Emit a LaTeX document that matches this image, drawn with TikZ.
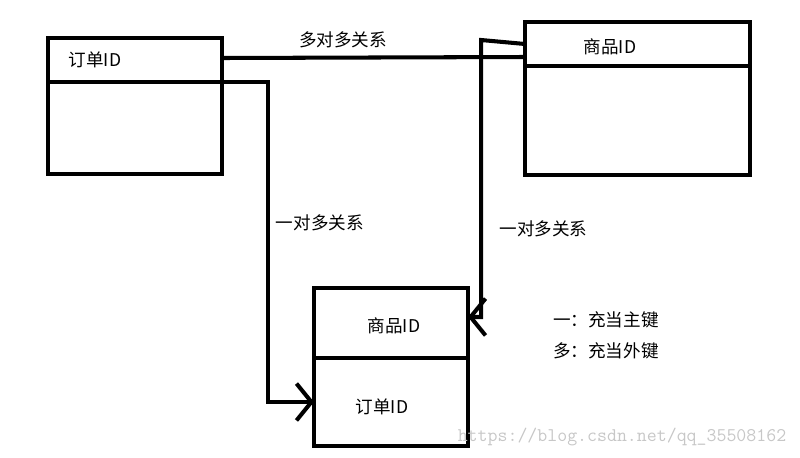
\documentclass[tikz,border=0pt]{standalone}
\usepackage{fontspec}
\setmainfont{Noto Sans CJK SC}
\usetikzlibrary{arrows.meta,positioning}

\begin{document}
\begin{tikzpicture}[x=0.02cm,y=-0.02cm,
    tbl/.style={draw,line width=2.3pt,outer sep=0pt,inner sep=0pt},
    conn/.style={line width=2.3pt},
    tip/.style={-{Straight Barb[length=8.5pt,width=21pt]}},
    lbl/.style={font=\fontsize{10}{12}\selectfont},
    wmark/.style={text=black!22,font=\ttfamily\fontsize{11}{13}\selectfont}]
    \useasboundingbox (0,0) rectangle (800,457);
    \node[tbl,minimum width=3.48cm,minimum height=0.88cm] (ordhd) at (135,60) {};
    \node[tbl,minimum width=3.48cm,minimum height=1.84cm] (ordbd) at (135,128) {};
    \node[tbl,minimum width=4.5cm,minimum height=0.88cm] (goodhd) at (637.5,44) {};
    \node[tbl,minimum width=4.5cm,minimum height=2.18cm] (goodbd) at (637.5,120.5) {};
    \node[tbl,minimum width=3.08cm,minimum height=1.4cm] (itemhd) at (391,323) {};
    \node[tbl,minimum width=3.08cm,minimum height=1.76cm] (itembd) at (391,402) {};
    \node[lbl] (ordid) at (95,60) {订单ID};
    \node[lbl] (goodid) at (610,47) {商品ID};
    \node[lbl] (itgood) at (394,326) {商品ID};
    \node[lbl] (itord) at (382,407) {订单ID};
    \draw[conn] ([yshift=0.04cm]ordhd.east) -- ([yshift=-0.26cm]goodhd.west)
        node[lbl,pos=0.4,above=1pt] (mm) {多对多关系};
    \draw[conn,tip] (ordhd.south east) -- ++(46,0) |- node[lbl,pos=0.22,right] (om1) {一对多关系} (itembd.west);
    \draw[conn,tip] (goodhd.west) -- ++(-44,-4) |- node[lbl,pos=0.34,right=6pt] (om2) {一对多关系} ([yshift=0.12cm]itemhd.east);
    \node[lbl,anchor=west] (note1) at (547,320) {一：充当主键};
    \node[lbl,below=0.62cm of note1.west,anchor=west] (note2) {多：充当外键};
    \node[wmark] (wm) at (622,437) {https://blog.csdn.net/qq\_35508162};
\end{tikzpicture}
\end{document}
